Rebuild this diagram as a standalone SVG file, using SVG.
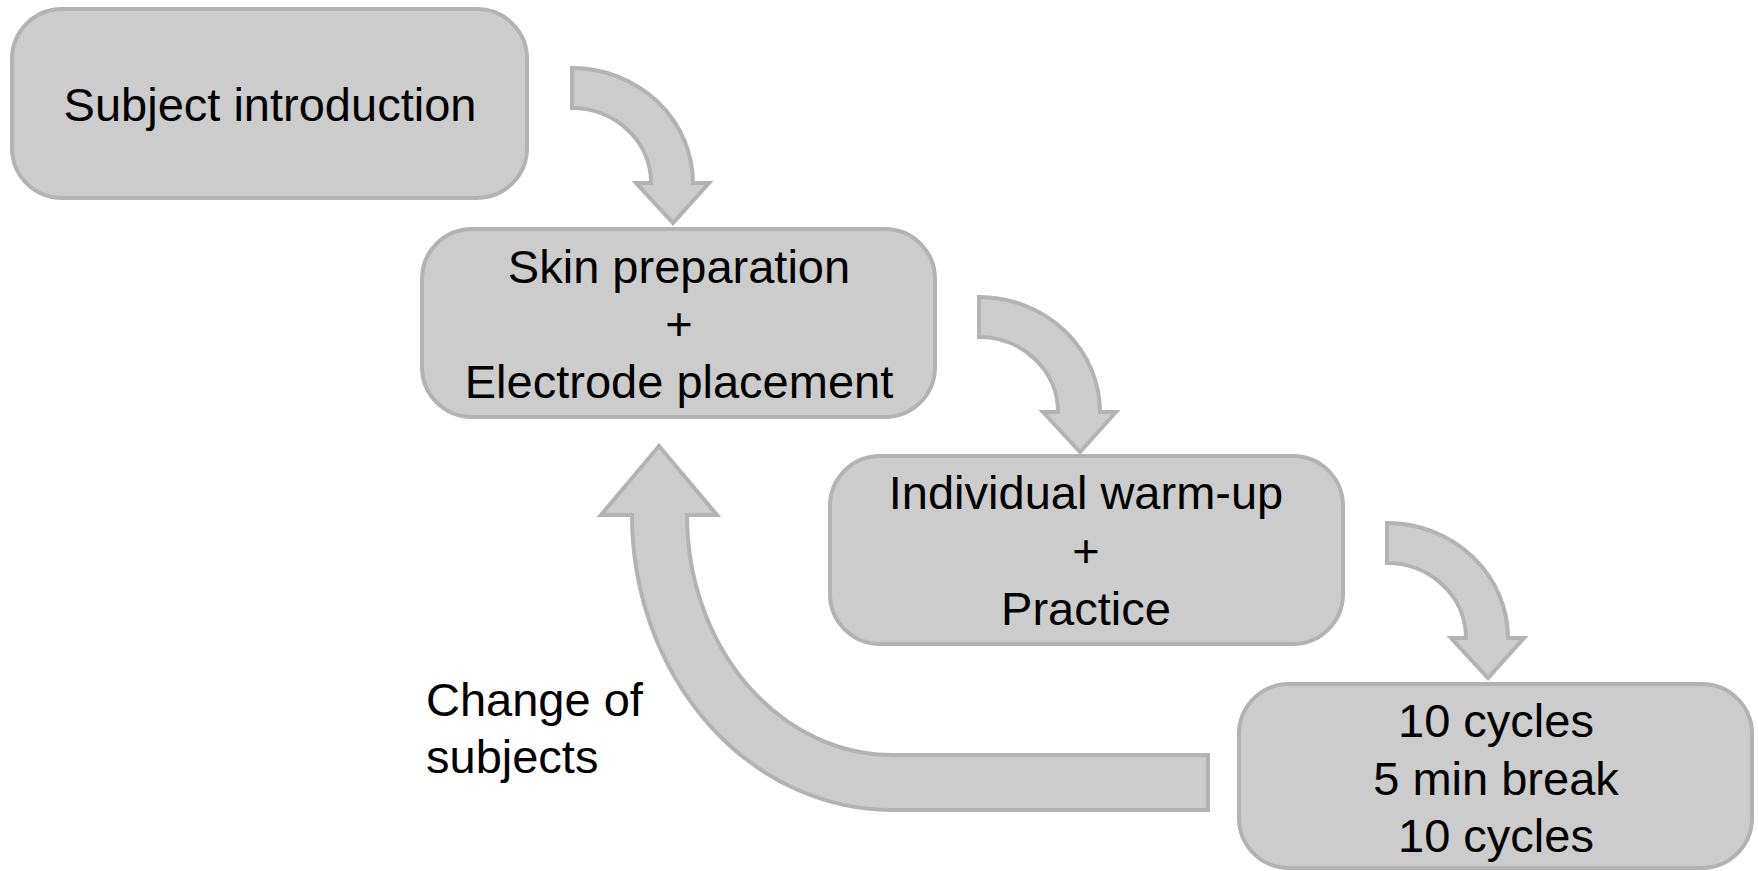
<svg xmlns="http://www.w3.org/2000/svg" width="1758" height="871" viewBox="0 0 1758 871">
<style>
.box{fill:#cccccc;stroke:#b3b3b3;stroke-width:4}
.arr{fill:#cccccc;stroke:#b3b3b3;stroke-width:4;stroke-linejoin:miter}
.t{font-family:"Liberation Sans",Arial,sans-serif;font-size:47px;fill:#000000;text-anchor:middle}
.l{font-family:"Liberation Sans",Arial,sans-serif;font-size:47px;fill:#000000}
</style>
<defs>
<path id="curl" d="M572,68 A121,115 0 0 1 693,183 L709,183 L673,223 L636,183 L651,183 A79,75 0 0 0 572,108 Z"/>
</defs>
<rect width="1758" height="871" fill="#ffffff"/>
<g id="connectors">
<use href="#curl" class="arr"/>
<use href="#curl" class="arr" transform="translate(407,229)"/>
<use href="#curl" class="arr" transform="translate(815,455)"/>
<path class="arr" d="M1208,755 L892,755 A205,240 0 0 1 687,515 L717,515 L659,446 L601,515 L632,515 A260,295 0 0 0 892,810 L1208,810 Z"/>
<text class="l" x="426" y="716">Change of</text>
<text class="l" x="426" y="773">subjects</text>
</g>
<g id="node1">
<rect class="box" x="12" y="9" width="515" height="189" rx="50" ry="50"/>
<text class="t" x="270" y="121">Subject introduction</text>
</g>
<g id="node2">
<rect class="box" x="422" y="229" width="513" height="188" rx="50" ry="50"/>
<text class="t" x="679" y="283">Skin preparation</text>
<text class="t" x="679" y="340">+</text>
<text class="t" x="679" y="398">Electrode placement</text>
</g>
<g id="node3">
<rect class="box" x="830" y="456" width="513" height="188" rx="50" ry="50"/>
<text class="t" x="1086" y="509">Individual warm-up</text>
<text class="t" x="1086" y="567">+</text>
<text class="t" x="1086" y="625">Practice</text>
</g>
<g id="node4">
<rect class="box" x="1239" y="684" width="513" height="184" rx="50" ry="50"/>
<text class="t" x="1496" y="737">10 cycles</text>
<text class="t" x="1496" y="795">5 min break</text>
<text class="t" x="1496" y="852">10 cycles</text>
</g>
</svg>
